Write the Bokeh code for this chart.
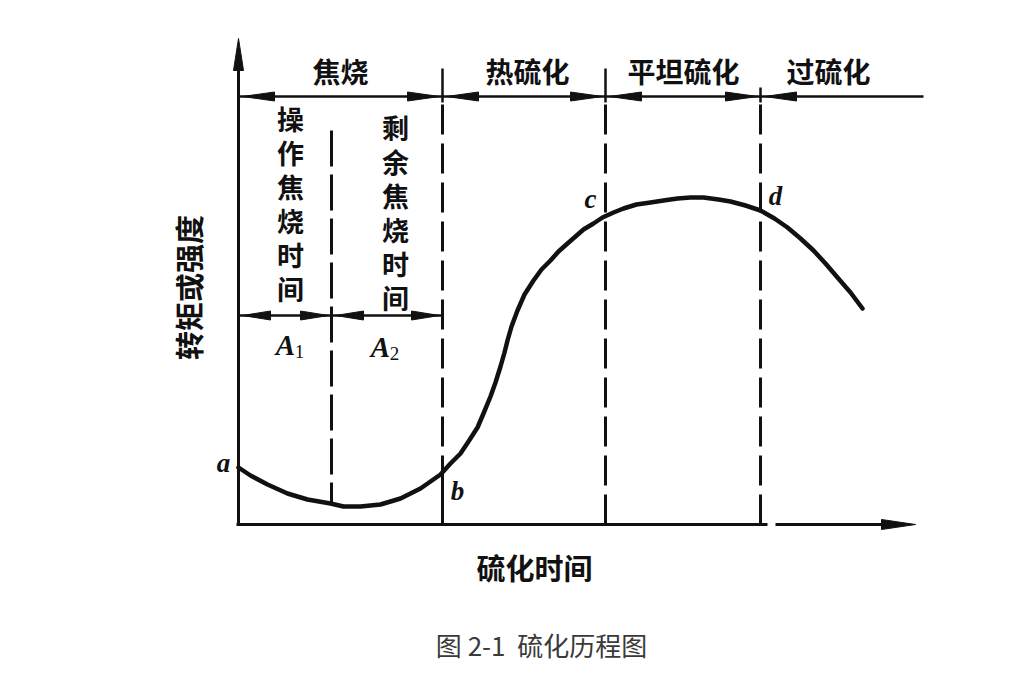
import math
from bokeh.plotting import figure
from bokeh.models import Range1d
from bokeh.embed import file_html
from bokeh.resources import INLINE
from bokeh.core.properties import value

# ---------------- data (time units ~ px from origin, torque units) ----------------
cure_time = [0, 12, 29, 49, 69, 92, 105, 122, 142, 162, 182, 202, 212, 222, 230, 239,
             245, 252, 257, 262, 266, 269, 273, 279, 286, 295, 303, 312, 320, 329, 337,
             345, 355, 364, 375, 385, 398, 412, 425, 439, 452, 465, 480, 492, 507, 522,
             536, 549, 562, 575, 587, 599, 612, 624]
torque = [57, 49, 40, 31, 25, 21, 18, 18, 20, 26, 36, 50, 61, 71, 83, 97,
          111, 128, 142, 158, 172, 184, 198, 214, 230, 244, 255, 264, 273, 281, 288,
          295, 301, 307, 312, 316, 320, 322, 324, 326, 327, 327, 325, 323, 319, 314,
          306, 297, 286, 274, 261, 247, 232, 216]

# stage boundaries: origin, A1/A2 split, b, c, d
bounds = [0, 93, 204, 367, 522]
stage_labels = ["焦烧", "热硫化", "平坦硫化", "过硫化"]
stage_centers = [102, 289, 445, 590]
col1_chars = list("操作焦烧时间")
col2_chars = list("剩余焦烧时间")
point_labels = ["a", "b", "c", "d"]
point_x = [-15, 219, 352, 537]
point_y = [62, 34, 326, 329]

x_end = 677        # x-axis arrow tip
y_end = 486        # y-axis arrow tip
top_level = 428    # stage arrow line
mid_level = 209    # A1/A2 arrow line
top_end = 685

W, H = 1013, 666
p = figure(width=W, height=H, x_range=Range1d(-238, -238 + W), y_range=Range1d(524 - H, 524),
           output_backend="svg", toolbar_location=None, min_border=0,
           x_axis_type=None, y_axis_type=None)
p.grid.visible = False
p.outline_line_color = None
p.background_fill_color = "white"
p.border_fill_color = "white"

INK = "#111111"
CJK = value("Noto Sans CJK SC")
SERIF = value("Liberation Serif")


def head(tip_x, tip_y, dx, dy, L=32, hw=4.5):
    bx, by = tip_x - dx * L, tip_y - dy * L
    nx, ny = -dy, dx
    return [tip_x, bx + nx * hw, bx - nx * hw], [tip_y, by + ny * hw, by - ny * hw]


hx, hy = [], []


def add_head(*a, **k):
    xs, ys = head(*a, **k)
    hx.append(xs)
    hy.append(ys)


# axes
p.line([bounds[0], bounds[0]], [0, y_end - 20], line_width=3, line_color=INK)
add_head(bounds[0], y_end, 0, 1, L=32, hw=5)
p.line([bounds[0] - 2, bounds[4] + 7], [0, 0], line_width=3, line_color=INK)
p.line([bounds[4] + 15, x_end - 20], [0, 0], line_width=3, line_color=INK)
add_head(x_end, 0, 1, 0, L=34, hw=5)

# top stage line
p.line([bounds[0], top_end], [top_level, top_level], line_width=2.5, line_color=INK)
for a_, b_ in [(bounds[0], bounds[2]), (bounds[2], bounds[3]), (bounds[3], bounds[4])]:
    add_head(a_ + 4, top_level, -1, 0)
    add_head(b_ - 3, top_level, 1, 0)
add_head(bounds[4] + 4, top_level, -1, 0)

# middle A1/A2 line
p.line([bounds[0], bounds[2]], [mid_level, mid_level], line_width=2.5, line_color=INK)
for a_, b_ in [(bounds[0], bounds[1]), (bounds[1], bounds[2])]:
    add_head(a_ + 4, mid_level, -1, 0, L=28)
    add_head(b_ - 3, mid_level, 1, 0, L=28)

p.patches(hx, hy, fill_color=INK, line_color=INK, line_width=1)

# ticks above the stage line
tick_tops = [456, 456, 437]
for bx, tt in zip(bounds[2:], tick_tops):
    p.line([bx, bx], [top_level - 6, tt], line_width=2.5, line_color=INK)

# dashed vertical lines
p.line([bounds[1], bounds[1]], [394, 20], line_width=3, line_color=INK, line_dash="36 8")
for bx in bounds[2:]:
    p.line([bx, bx], [top_level - 8, 0], line_width=3, line_color=INK, line_dash="30 9")
p.line([bounds[2], bounds[2]], [50, 0], line_width=3, line_color=INK)

# curve
p.line(cure_time, torque, line_width=4.5, line_color=INK, line_join="round", line_cap="round")

# stage labels
p.text(stage_centers, [454] * 4, text=stage_labels, text_font=CJK, text_font_style="bold",
       text_font_size="28px", text_align="center", text_baseline="middle", text_color=INK)

# vertical columns
p.text([52] * 6, [406 - 34 * i for i in range(6)], text=col1_chars, text_font=CJK,
       text_font_style="bold", text_font_size="27px", text_align="center",
       text_baseline="middle", text_color=INK)
p.text([157] * 6, [397 - 34 * i for i in range(6)], text=col2_chars, text_font=CJK,
       text_font_style="bold", text_font_size="27px", text_align="center",
       text_baseline="middle", text_color=INK)

# A1 / A2
p.text([47, 142], [180, 178], text=["A", "A"], text_font=SERIF, text_font_style="bold italic",
       text_font_size="29px", text_align="center", text_baseline="middle", text_color=INK)
p.text([61, 156], [173, 171], text=["1", "2"], text_font=SERIF, text_font_style="normal",
       text_font_size="19px", text_align="center", text_baseline="middle", text_color=INK)

# point labels
p.text(point_x, point_y, text=point_labels, text_font=SERIF, text_font_style="bold italic",
       text_font_size="27px", text_align="center", text_baseline="middle", text_color=INK)

# axis titles
p.text([-51], [237], text=["转矩或强度"], angle=math.pi / 2, text_font=CJK,
       text_font_style="bold", text_font_size="29px", text_align="center",
       text_baseline="middle", text_color=INK)
p.text([296], [-42], text=["硫化时间"], text_font=CJK, text_font_style="bold",
       text_font_size="29px", text_align="center", text_baseline="middle", text_color=INK)

# caption
p.text([303], [-120], text=["图 2-1\u00a0\u00a0硫化历程图"], text_font=CJK, text_font_style="normal",
       text_font_size="26px", text_align="center", text_baseline="middle", text_color="#3a3a3a")

open("out.html", "w").write(file_html(p, INLINE))
